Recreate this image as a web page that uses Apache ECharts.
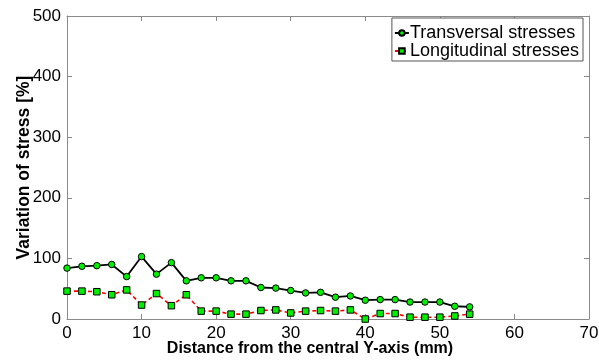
<!DOCTYPE html>
<html>
<head>
<meta charset="utf-8">
<script src="https://cdn.jsdelivr.net/npm/echarts@6/dist/echarts.min.js"></script>
<style>
  html, body { margin: 0; padding: 0; background: #fff; }
  #chart { width: 599px; height: 360px; }
</style>
</head>
<body>
<div id="chart"></div>
<script>
// Distance from the central Y-axis (mm)
const distances = [0, 2, 4, 6, 8, 10, 12, 14, 16, 18, 20, 22, 24, 26, 28, 30, 32, 34, 36, 38, 40, 42, 44, 46, 48, 50, 52, 54];
// Variation of stress (%)
const transversal = [84, 87, 88, 90, 70, 103, 74, 93, 63, 68, 68, 63, 63, 52, 51, 47, 43, 44, 36, 38, 31, 32, 32, 28, 28, 28, 21, 20];
const longitudinal = [46, 46, 45, 40, 48, 23, 42, 22, 40, 13, 13, 8, 8, 14, 15, 10, 13, 14, 13, 15, 0, 9, 9, 3, 3, 3, 5, 8];
const seriesNames = ['Transversal stresses', 'Longitudinal stresses'];

const FONT = 'Liberation Sans, Arial, sans-serif';
const AXIS_COLOR = '#8a8a8a';

function pairs(xs, ys) {
  return xs.map((x, i) => [x, ys[i]]);
}

function axisBase(extra) {
  return Object.assign({
    type: 'value',
    axisLine: { show: true, onZero: false, lineStyle: { color: AXIS_COLOR, width: 1 } },
    axisTick: { show: true, inside: true, length: 5, lineStyle: { color: AXIS_COLOR } },
    splitLine: { show: false }
  }, extra);
}

const chart = echarts.init(document.getElementById('chart'), null, { renderer: 'canvas' });

chart.setOption({
  animation: false,
  backgroundColor: '#ffffff',
  textStyle: { fontFamily: FONT },
  grid: { left: 67, right: 10, top: 16, bottom: 41, containLabel: false, outerBoundsMode: 'none' },
  legend: {
    data: seriesNames,
    orient: 'vertical',
    right: 16,
    top: 18,
    itemWidth: 14,
    itemHeight: 7,
    itemGap: 0,
    padding: [6, 4, 1, 2],
    backgroundColor: '#ffffff',
    borderColor: '#555555',
    borderWidth: 1,
    textStyle: { fontFamily: FONT, fontSize: 18, color: '#000', padding: [0, 0, 0, -4] }
  },
  xAxis: [
    axisBase({
      position: 'bottom',
      min: 0, max: 70, interval: 10,
      name: 'Distance from the central Y-axis (mm)',
      nameLocation: 'middle',
      nameMoveOverlap: false,
      nameGap: 22,
      nameTextStyle: { fontFamily: FONT, fontSize: 16, fontWeight: 'bold', color: '#000', padding: [0, 36, 0, 0] },
      axisLabel: { fontFamily: FONT, fontSize: 17, color: '#000', margin: 6 }
    }),
    axisBase({
      position: 'top',
      min: 0, max: 70, interval: 10,
      axisLabel: { show: false }
    })
  ],
  yAxis: [
    axisBase({
      position: 'left',
      min: 0, max: 500, interval: 100,
      name: 'Variation of stress [%]',
      nameLocation: 'middle',
      nameMoveOverlap: false,
      nameGap: 34,
      nameTextStyle: { fontFamily: FONT, fontSize: 17.5, fontWeight: 'bold', color: '#000' },
      axisLabel: { fontFamily: FONT, fontSize: 17, color: '#000', margin: 6 }
    }),
    axisBase({
      position: 'right',
      min: 0, max: 500, interval: 100,
      axisLabel: { show: false }
    })
  ],
  series: [
    {
      name: seriesNames[0],
      type: 'line',
      data: pairs(distances, transversal),
      symbol: 'circle',
      symbolSize: 6.5,
      lineStyle: { color: '#000000', width: 1.8, type: 'solid' },
      itemStyle: { color: '#00ee00', borderColor: '#000000', borderWidth: 1 },
      emphasis: { disabled: true },
      z: 3
    },
    {
      name: seriesNames[1],
      type: 'line',
      data: pairs(distances, longitudinal),
      symbol: 'rect',
      symbolSize: 6.5,
      lineStyle: { color: '#ff0000', width: 1.6, type: [4, 3] },
      itemStyle: { color: '#00ee00', borderColor: '#000000', borderWidth: 1 },
      emphasis: { disabled: true },
      z: 3
    }
  ]
});
</script>
</body>
</html>
